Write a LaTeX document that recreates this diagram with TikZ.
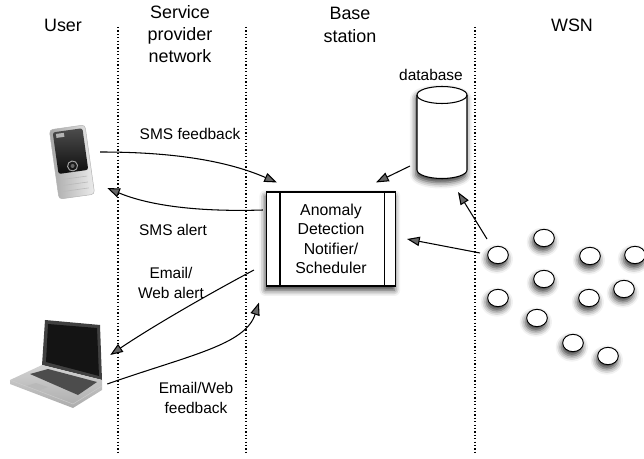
\documentclass[tikz,border=0pt]{standalone}
\usepackage{fontspec}
\setmainfont{Liberation Sans}
\usetikzlibrary{arrows.meta,shapes.geometric,shadows.blur}

\tikzset{
  head/.style={align=center, inner sep=0pt, font=\fontsize{15.3}{19.1}\selectfont},
  lbl/.style={align=center, inner sep=0pt, font=\fontsize{13.2}{16.3}\selectfont},
  conn/.style={line width=0.9pt, -{Triangle[length=3.8mm,width=2.8mm]}},
  divider/.style={line width=1.1pt, dash pattern=on 1.1pt off 1.8pt},
  soft/.style={blur shadow={shadow xshift=-1pt, shadow yshift=-3.5pt, shadow blur radius=5pt, shadow opacity=80}},
  mote/.style={ellipse, draw, line width=0.8pt, fill=white, inner sep=0pt,
    minimum width=0.62cm, minimum height=0.52cm, soft},
}

\begin{document}
\begin{tikzpicture}[x=0.03cm, y=-0.03cm]
\useasboundingbox (0,0) rectangle (644,459);

\draw[divider] (118,27)--(118,452);
\draw[divider] (246,27)--(246,452);
\draw[divider] (475,27)--(475,452);

\node[head] (user) at (63,25) {User};
\node[head] (spn) at (180,34) {Service\\provider\\network};
\node[head] (bs) at (350,25) {Base\\station};
\node[head] (wsn) at (572,25) {WSN};

% handset
\node[minimum width=1.68cm, minimum height=2.1cm, inner sep=0] (phone) at (72,162) {};
\begin{scope}[shift={(72,162)}, rotate=8]
\shade[left color=gray!70, right color=gray!15, rounded corners=3] (-18,-35) rectangle (18,35);
\shade[top color=black!70, bottom color=black!95, rounded corners=2] (-15,-32) rectangle (15,10);
\fill[gray!60] (-12,-30) rectangle (-4,-26);
\draw[gray!70, line width=0.8pt] (0,4) circle[radius=5];
\fill[black!60] (0,4) circle[radius=2];
\foreach \r in {16,22,28}
  \draw[gray!55, line width=0.5pt] (-13,\r)--(13,\r);
\draw[gray!60, line width=0.4pt, rounded corners=3] (-18,-35) rectangle (18,35);
\end{scope}

% notebook
\node[minimum width=3.12cm, minimum height=2.7cm, inner sep=0] (laptop) at (56,364) {};
\fill[black!75] (45,320)--(100,325)--(102,380)--(42,365)--cycle;
\fill[black!92] (48,324)--(97,328)--(99,376)--(46,362)--cycle;
\shade[top color=gray!35, bottom color=gray!65] (42,365)--(102,380)--(102,390)--(73,408)--(10,384)--(10,380)--cycle;
\fill[black!70] (30,374)--(48,369)--(97,382)--(78,395)--cycle;
\fill[gray!55] (26,386)--(36,383)--(48,387)--(38,391)--cycle;
\draw[gray!40] (10,380)--(73,404)--(102,386);

% notifier
\node[draw, line width=0.9pt, fill=white, soft, minimum width=3.87cm, minimum height=2.82cm,
  lbl, font=\fontsize{13.5}{16.6}\selectfont] (notifier) at (331,239)
  {Anomaly\\Detection\\Notifier/\\Scheduler};
\draw[line width=0.9pt] ([xshift=0.42cm]notifier.north west)--([xshift=0.42cm]notifier.south west);
\draw[line width=0.9pt] ([xshift=-0.36cm]notifier.north east)--([xshift=-0.36cm]notifier.south east);

% database
\node[minimum width=1.5cm, minimum height=2.73cm, inner sep=0] (db) at (442,132) {};
\filldraw[line width=0.9pt, fill=white, soft] (417,95)--(417,170) arc[start angle=180, end angle=360, x radius=0.75cm, y radius=0.255cm]
  --(467,95) arc[start angle=0, end angle=180, x radius=0.75cm, y radius=0.255cm]--cycle;
\draw[line width=0.9pt] (417,95) arc[start angle=180, end angle=360, x radius=0.75cm, y radius=0.255cm];
\node[lbl] (dblbl) at (431,75) {database};

% sensor motes
\node[mote] (s1) at (498,255) {};
\node[mote] (s2) at (544,238) {};
\node[mote] (s3) at (590,256) {};
\node[mote] (s4) at (635,255) {};
\node[mote] (s5) at (544,279) {};
\node[mote] (s6) at (498,298) {};
\node[mote] (s7) at (589,298) {};
\node[mote] (s8) at (624,289) {};
\node[mote] (s9) at (537,318) {};
\node[mote] (s10) at (573,343) {};
\node[mote] (s11) at (608,356) {};

% message flows
\draw[conn] ([yshift=0.3cm]phone.east) .. controls (170,152) and (225,160) .. ([shift={(0.33cm,0.27cm)}]notifier.north west);
\node[lbl] (smsfb) at (190,134) {SMS feedback};

\draw[conn] ([shift={(-0.09cm,0.87cm)}]notifier.west) .. controls (200,212) and (150,206) .. ([shift={(0.21cm,-0.78cm)}]phone.east);
\node[lbl] (smsal) at (173,230) {SMS alert};

\draw[conn] ([shift={(-0.36cm,-0.93cm)}]notifier.west) .. controls (205,296) and (150,328) .. ([shift={(0.06cm,0.27cm)}]laptop.east);
\node[lbl] (mailal) at (171,283) {Email/\\Web alert};

\draw[conn] ([shift={(-0.03cm,-0.6cm)}]laptop.east) .. controls (190,355) and (245,345) .. ([shift={(-0.21cm,-0.48cm)}]notifier.south west);
\node[lbl] (mailfb) at (196,398) {Email/Web\\feedback};

\draw[conn] ([shift={(-0.96cm,-1.02cm)}]db.center)--([shift={(-0.6cm,0.27cm)}]notifier.north east);
\draw[conn] ([shift={(-0.54cm,0.06cm)}]s1.center)--([xshift=0.33cm]notifier.east);
\draw[conn] ([shift={(-0.33cm,0.48cm)}]s1.center)--([shift={(0.48cm,-1.8cm)}]db.center);
\end{tikzpicture}
\end{document}
